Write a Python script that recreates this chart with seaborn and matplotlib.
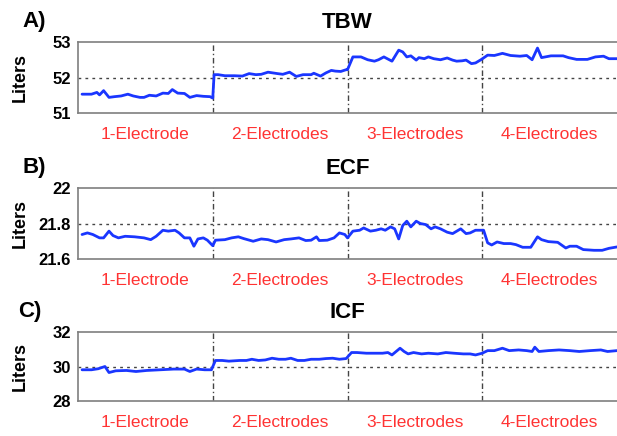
import matplotlib
matplotlib.use("Agg")
import matplotlib.pyplot as plt
import seaborn as sns
import pandas as pd

# ---------------- data ----------------
segments = ["1-Electrode", "2-Electrodes", "3-Electrodes", "4-Electrodes"]
seg_edges = [0, 100, 200, 300, 400]

tbw_x = [3, 10, 14, 16, 19, 23, 27, 32, 37, 41, 46, 49, 53, 58, 63, 67, 70, 74, 79, 83, 88, 93, 98, 100,
         101, 104, 109, 116, 122, 127, 132, 136, 141, 148, 152, 157, 162, 167, 173, 175, 180, 184, 188, 191, 195, 199,
         200, 204, 210, 215, 220, 223, 227, 231, 233, 238, 241, 244, 247, 251, 253, 257, 260, 264, 269, 274, 278, 281,
         285, 288, 292, 295, 299, 304, 309, 315, 321, 328, 333, 337, 341, 344, 351, 360, 364, 370, 378, 384, 390, 394, 400]
tbw_y = [51.53, 51.53, 51.58, 51.51, 51.63, 51.44, 51.46, 51.48, 51.53, 51.48, 51.44, 51.44, 51.50, 51.48, 51.56,
         51.55, 51.66, 51.56, 51.55, 51.44, 51.49, 51.47, 51.46, 51.42,
         52.08, 52.08, 52.05, 52.05, 52.04, 52.11, 52.08, 52.09, 52.15, 52.11, 52.09, 52.15, 52.03, 52.08, 52.08, 52.12,
         52.04, 52.13, 52.20, 52.18, 52.17, 52.22,
         52.22, 52.58, 52.58, 52.50, 52.46, 52.50, 52.58, 52.50, 52.46, 52.77, 52.72, 52.58, 52.61, 52.49, 52.56, 52.53,
         52.58, 52.53, 52.50, 52.55, 52.49, 52.46, 52.47, 52.49, 52.39, 52.41, 52.50, 52.63, 52.62, 52.68, 52.62, 52.60,
         52.62, 52.50, 52.83, 52.56, 52.61, 52.61, 52.56, 52.51, 52.51, 52.58, 52.60, 52.53, 52.53]

ecf_x = [3, 7, 11, 16, 19, 23, 26, 30, 35, 42, 49, 54, 58, 63, 67, 72, 75, 79, 83, 86, 89, 93, 96, 100,
         102, 109, 114, 119, 123, 130, 136, 141, 147, 153, 158, 164, 169, 173, 177, 179, 185, 190, 194, 198, 200,
         204, 209, 212, 217, 221, 225, 228, 232, 235, 238, 241, 244, 247, 251, 254, 258, 262, 265, 269, 274, 278,
         284, 288, 291, 295, 301, 304, 307, 311, 316, 321, 325, 330, 336, 341, 344, 349, 356, 362, 365, 370, 375,
         383, 389, 394, 400]
ecf_y = [21.738, 21.747, 21.738, 21.719, 21.719, 21.757, 21.732, 21.719, 21.728, 21.725, 21.719, 21.709, 21.728,
         21.762, 21.757, 21.762, 21.747, 21.719, 21.719, 21.672, 21.713, 21.719, 21.706, 21.675,
         21.706, 21.709, 21.719, 21.725, 21.715, 21.700, 21.713, 21.709, 21.696, 21.709, 21.713, 21.719, 21.704,
         21.706, 21.725, 21.704, 21.706, 21.719, 21.747, 21.738, 21.719,
         21.757, 21.762, 21.775, 21.757, 21.762, 21.770, 21.762, 21.781, 21.770, 21.713, 21.789, 21.813, 21.781,
         21.813, 21.800, 21.794, 21.770, 21.781, 21.770, 21.751, 21.743, 21.770, 21.743, 21.747, 21.762, 21.762,
         21.691, 21.679, 21.696, 21.687, 21.687, 21.681, 21.666, 21.666, 21.725, 21.709, 21.698, 21.694, 21.662,
         21.672, 21.672, 21.653, 21.649, 21.649, 21.660, 21.668]

icf_x = [3, 10, 15, 20, 23, 28, 36, 43, 51, 61, 71, 79, 83, 88, 94, 99,
         102, 107, 112, 120, 125, 129, 134, 139, 144, 149, 154, 158, 163, 168, 173, 179, 184, 189, 194, 199,
         203, 207, 214, 219, 226, 230, 233, 239, 242, 245, 249, 255, 260, 267, 273, 279, 286, 291, 295, 300,
         304, 309, 315, 320, 327, 333, 337, 339, 342, 349, 357, 365, 372, 380, 388, 393, 400]
icf_y = [29.81, 29.81, 29.87, 30.00, 29.65, 29.75, 29.77, 29.71, 29.77, 29.81, 29.85, 29.85, 29.71, 29.85, 29.81, 29.81,
         30.35, 30.35, 30.31, 30.35, 30.35, 30.42, 30.35, 30.38, 30.48, 30.42, 30.42, 30.48, 30.35, 30.35, 30.42,
         30.42, 30.46, 30.48, 30.42, 30.46,
         30.81, 30.81, 30.77, 30.77, 30.77, 30.81, 30.67, 31.06, 30.87, 30.73, 30.81, 30.73, 30.77, 30.73, 30.81,
         30.77, 30.73, 30.73, 30.67, 30.77,
         30.92, 30.92, 31.06, 30.92, 30.96, 30.92, 30.87, 31.12, 30.87, 30.92, 30.96, 30.92, 30.87, 30.92, 30.96,
         30.87, 30.92]

panels = [
    dict(letter="A)", title="TBW", x=tbw_x, y=tbw_y, ylim=(51, 53), ticks=[51, 52, 53],
         ticklabels=["51", "52", "53"]),
    dict(letter="B)", title="ECF", x=ecf_x, y=ecf_y, ylim=(21.6, 22.0), ticks=[21.6, 21.8, 22.0],
         ticklabels=["21.6", "21.8", "22"]),
    dict(letter="C)", title="ICF", x=icf_x, y=icf_y, ylim=(28, 32), ticks=[28, 30, 32],
         ticklabels=["28", "30", "32"]),
]

# ---------------- style ----------------
sns.set_style("white")
plt.rcParams["font.family"] = ["Liberation Sans", "DejaVu Sans"]
plt.rcParams["text.color"] = "black"
plt.rcParams["axes.labelcolor"] = "black"
plt.rcParams["ytick.color"] = "black"

fig = plt.figure(figsize=(6.17, 4.36), dpi=100)
W, H = 617, 436
boxes = [(78, 42, 113), (78, 188, 259), (78, 332, 401)]   # left, top, bottom (px)
letter_pos = [(22, 21), (22, 167), (18, 311)]

line_color = "#1a36ff"
red = "#ff3333"
spine_color = "#7f7f7f"

for p, (l, t, b), (lx, ly) in zip(panels, boxes, letter_pos):
    ax = fig.add_axes([l / W, 1 - b / H, 1 - l / W, (b - t) / H])
    df = pd.DataFrame({"x": p["x"], "y": p["y"]})
    sns.lineplot(data=df, x="x", y="y", ax=ax, color=line_color, linewidth=2.0)
    ax.set_xlim(seg_edges[0], seg_edges[-1])
    ax.set_ylim(*p["ylim"])
    # grid lines
    ax.axhline(p["ticks"][1], color="#444444", linestyle=(0, (2, 3)), linewidth=1.0, zorder=0)
    for e in seg_edges[1:-1]:
        ax.axvline(e, color="#444444", linestyle=(0, (4, 2, 1, 2)), linewidth=1.0, zorder=0)
    # y ticks
    ax.set_yticks(p["ticks"])
    ax.set_yticklabels(p["ticklabels"], fontsize=12, fontweight="bold", color="black")
    # x ticks: segment names
    centers = [(seg_edges[i] + seg_edges[i + 1]) / 2 for i in range(4)]
    ax.set_xticks(centers)
    ax.set_xticklabels(segments, fontsize=12.5, color=red)
    ax.tick_params(axis="both", length=0)
    ax.tick_params(axis="x", pad=10)
    ax.tick_params(axis="y", pad=5)
    ax.set_xlabel("")
    ax.set_ylabel("Liters", fontsize=13, fontweight="bold", color="black")
    ax.yaxis.set_label_coords(-0.092, 0.5)
    ax.set_title(p["title"], fontsize=16, fontweight="bold", pad=10, color="black")
    for name, sp in ax.spines.items():
        sp.set_color(spine_color)
        sp.set_linewidth(1.2)
    ax.spines["right"].set_visible(False)
    fig.text(lx / W, 1 - ly / H, p["letter"], fontsize=16, fontweight="bold", va="center", ha="left",
             color="black")

fig.savefig("out.png", dpi=100, facecolor="white")
